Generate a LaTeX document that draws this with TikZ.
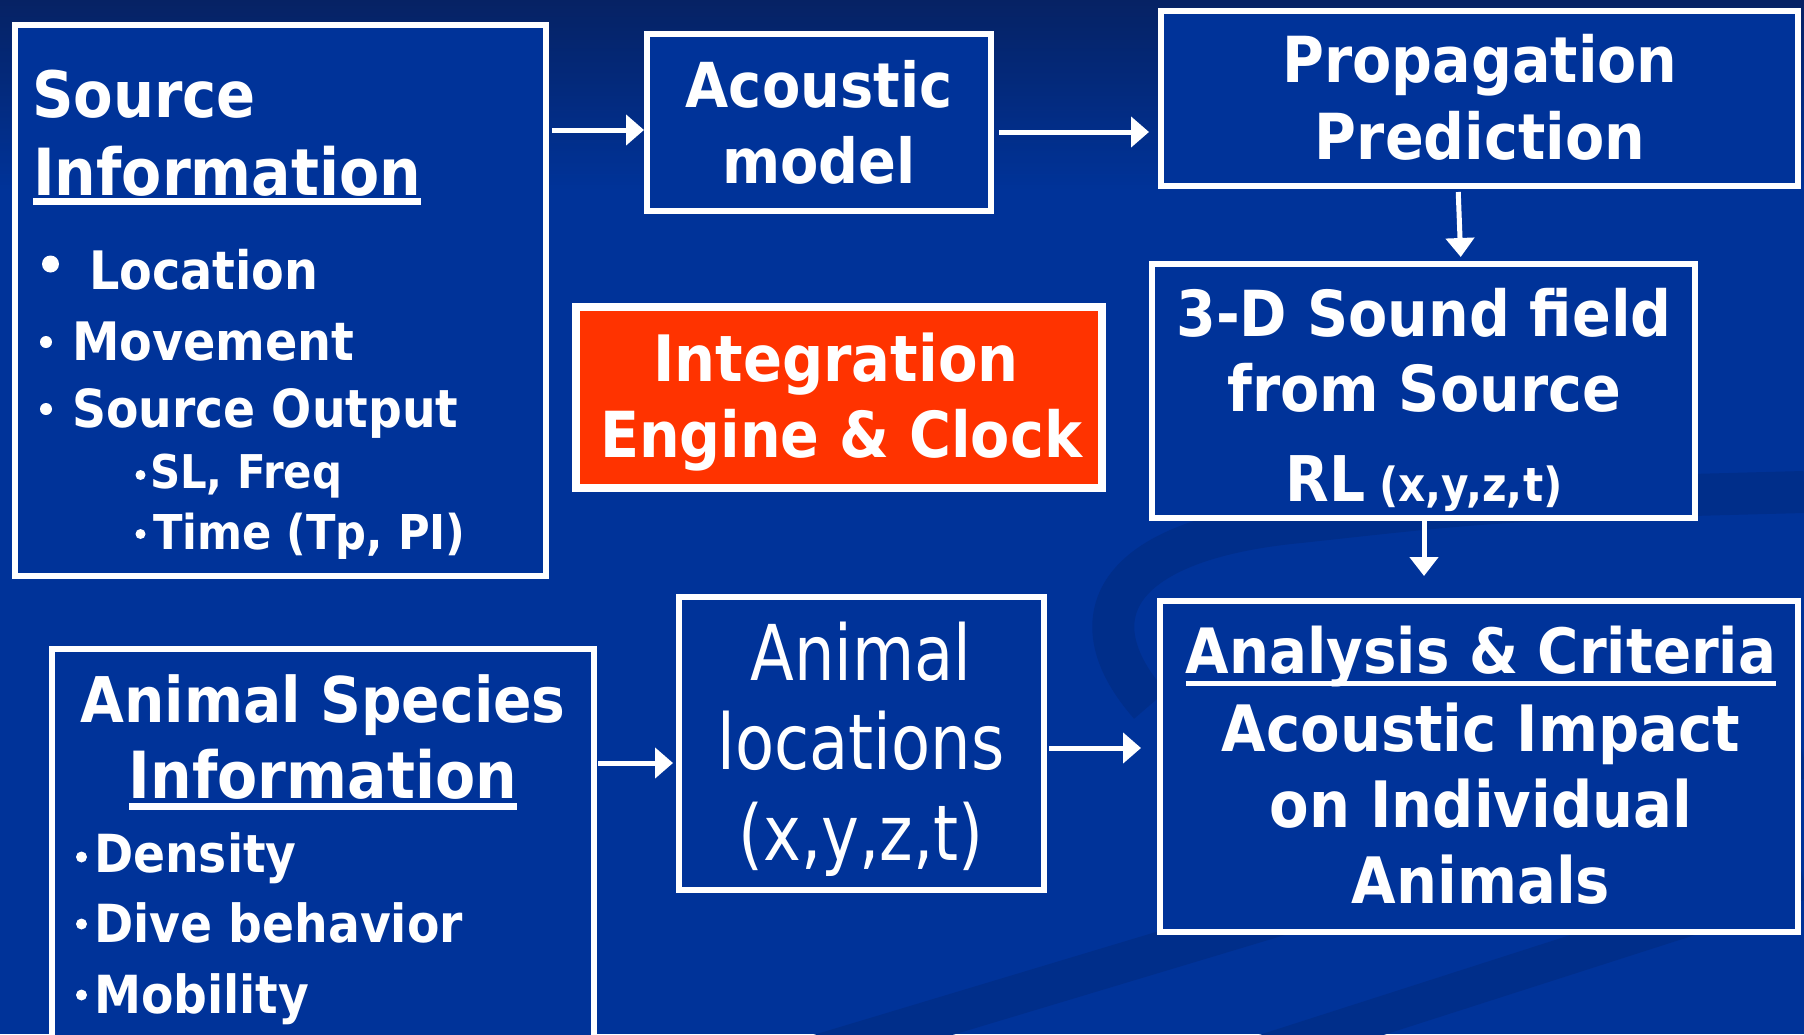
\documentclass[tikz,border=0pt]{standalone}
\usepackage{fontspec}
\newfontfamily\tah{DejaVu Sans}[FakeStretch=0.9]
\newfontfamily\tahlt{DejaVu Sans}[FakeStretch=0.83]
\usetikzlibrary{arrows.meta}
\definecolor{bgmain}{RGB}{0,51,153}
\definecolor{bgtop}{RGB}{6,34,100}
\definecolor{swirl}{RGB}{0,46,138}
\definecolor{engine}{RGB}{255,51,0}
\newcommand\fsz[1]{\fontsize{#1}{#1}\selectfont}
\begin{document}
\begin{tikzpicture}[x=1pt,y=-1pt,
  box/.style={draw=white, line width=6pt, fill=bgmain, inner sep=0pt, outer sep=0pt},
  txt/.style={text=white, inner sep=0pt, outer sep=0pt},
  arr/.style={draw=white, line width=5pt, -{Triangle[length=18pt,width=30pt]}},
  varr/.style={draw=white, line width=5pt, -{Triangle[length=19pt,width=28pt]}},
  uline/.style={draw=white},
  dot/.style={circle, fill=white, inner sep=0pt}
]
\clip (0,0) rectangle (1804,1034);
% background
\fill[bgmain] (0,0) rectangle (1804,1034);
\shade[top color=bgtop, bottom color=bgmain] (0,0) rectangle (1804,190);
% swirls
\draw[swirl, line width=42pt] (1150,705) .. controls (1075,620) and (1110,540) .. (1300,522) .. controls (1500,500) .. (1804,492);
\draw[swirl, line width=40pt] (700,1090) -- (1804,758);
\draw[swirl, line width=38pt] (1150,1090) -- (1804,880);
% boxes
\node[box, minimum width=531pt, minimum height=551pt] (src) at (280.5,300.5) {};
\node[box, minimum width=344pt, minimum height=177pt] (acou) at (819,122.5) {};
\node[box, minimum width=637pt, minimum height=175pt] (prop) at (1479.5,98.5) {};
\node[box, minimum width=543pt, minimum height=254pt] (td) at (1423.5,391) {};
\node[box, fill=engine, line width=8pt, minimum width=526pt, minimum height=181pt] (eng) at (839,397.5) {};
\node[box, minimum width=365pt, minimum height=293pt] (aloc) at (861.5,743.5) {};
\node[box, minimum width=638pt, minimum height=331pt] (ana) at (1479,766.5) {};
\node[box, minimum width=542pt, minimum height=401pt] (spec) at (323,849.5) {};
% source text
\node[txt, anchor=base west, font=\tah\bfseries\fsz{64}] (srcA) at (32,117) {Source};
\node[txt, anchor=base west, font=\tah\bfseries\fsz{65}] (srcB) at (33,195) {Information};
\draw[uline, line width=7pt] ([yshift=-6pt]srcB.base west) -- ([yshift=-6pt]srcB.base east);
\node[dot, minimum size=17pt] (d1) at (50.5,264) {};
\node[txt, anchor=base west, font=\tah\bfseries\fsz{53}] (srcC) at (89,289) {Location};
\node[dot, minimum size=12pt] (d2) at (46,342) {};
\node[txt, anchor=base west, font=\tah\bfseries\fsz{53}] (srcD) at (72,360) {Movement};
\node[dot, minimum size=12pt] (d3) at (46,409) {};
\node[txt, anchor=base west, font=\tah\bfseries\fsz{52.5}] (srcE) at (72,427) {Source Output};
\node[dot, minimum size=10pt] (d4) at (140.5,475) {};
\node[txt, anchor=base west, font=\tah\bfseries\fsz{46.5}] (srcF) at (150,488) {SL, Freq};
\node[dot, minimum size=10pt] (d5) at (140.5,534) {};
\node[txt, anchor=base west, font=\tah\bfseries\fsz{48}] (srcG) at (153,549) {Time (Tp, PI)};
% acoustic model
\node[txt, anchor=base, font=\tah\bfseries\fsz{62}] (acA) at (819,107) {Acoustic};
\node[txt, anchor=base, font=\tah\bfseries\fsz{62}] (acB) at (819,183) {model};
% propagation
\node[txt, anchor=base, font=\tah\bfseries\fsz{63.5}] (prA) at (1480,82) {Propagation};
\node[txt, anchor=base, font=\tah\bfseries\fsz{63.5}] (prB) at (1480,159) {Prediction};
% 3-D
\node[txt, anchor=base, font=\tah\bfseries\fsz{63.5}] (tdA) at (1424,336) {3-D Sound field};
\node[txt, anchor=base, font=\tah\bfseries\fsz{63.5}] (tdB) at (1424,411) {from Source};
\node[txt, anchor=base, font=\tah\bfseries] (tdC) at (1424,501) {{\fsz{63}RL}\hspace{14pt}{\fsz{47}(x,y,z,t)}};
% integration
\node[txt, anchor=base, font=\tah\bfseries\fsz{64}] (enA) at (836,381) {Integration};
\node[txt, anchor=base, font=\tah\bfseries\fsz{63.5}] (enB) at (841,457) {Engine \& Clock};
% animal species
\node[txt, anchor=base, font=\tah\bfseries\fsz{63}] (spA) at (323,722) {Animal Species};
\node[txt, anchor=base, font=\tah\bfseries\fsz{65}] (spB) at (323,798) {Information};
\draw[uline, line width=7pt] ([yshift=-8pt]spB.base west) -- ([yshift=-8pt]spB.base east);
\node[dot, minimum size=11pt] (d6) at (81.5,857) {};
\node[txt, anchor=base west, font=\tah\bfseries\fsz{52.5}] (spC) at (94,872) {Density};
\node[dot, minimum size=11pt] (d7) at (81.5,924) {};
\node[txt, anchor=base west, font=\tah\bfseries\fsz{52.5}] (spD) at (94,942) {Dive behavior};
\node[dot, minimum size=11pt] (d8) at (81.5,995) {};
\node[txt, anchor=base west, font=\tah\bfseries\fsz{52.5}] (spE) at (94,1013) {Mobility};
% animal locations
\node[txt, anchor=base, font=\tahlt\fsz{77}] (alA) at (861,680) {Animal};
\node[txt, anchor=base, font=\tahlt\fsz{77}] (alB) at (861,769) {locations};
\node[txt, anchor=base, font=\tahlt\fsz{77}] (alC) at (861,860) {(x,y,z,t)};
% analysis
\node[txt, anchor=base, font=\tah\bfseries\fsz{62.5}] (anA) at (1481,673) {Analysis \& Criteria};
\draw[uline, line width=5pt] ([yshift=-10pt]anA.base west) -- ([yshift=-10pt]anA.base east);
\node[txt, anchor=base, font=\tah\bfseries\fsz{64}] (anB) at (1481,751) {Acoustic Impact};
\node[txt, anchor=base, font=\tah\bfseries\fsz{64}] (anC) at (1481,827) {on Individual};
\node[txt, anchor=base, font=\tah\bfseries\fsz{64}] (anD) at (1481,903) {Animals};
% arrows
\draw[arr, shorten <=6pt, shorten >=3pt] (src.east |- 0,130) -- (acou.west |- 0,130);
\draw[arr, shorten <=8pt, shorten >=12pt] (acou.east |- 0,132) -- (prop.west |- 0,132);
\draw[varr, shorten <=6pt, shorten >=7pt] (prop.south -| 1458,0) -- (td.north -| 1461,0);
\draw[varr, shorten <=3pt, shorten >=25pt] (td.south -| 1424,0) -- (ana.north -| 1424,0);
\draw[arr, shorten <=4pt, shorten >=6pt] (spec.east |- 0,763) -- (aloc.west |- 0,763);
\draw[arr, shorten <=5pt, shorten >=19pt] (aloc.east |- 0,748) -- (ana.west |- 0,748);
\end{tikzpicture}
\end{document}
